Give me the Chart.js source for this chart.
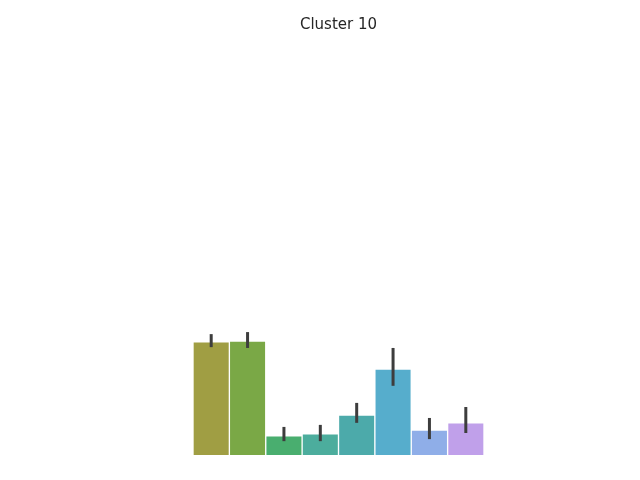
<!DOCTYPE html>
<html>
<head>
<meta charset="utf-8">
<script src="https://cdn.jsdelivr.net/npm/chart.js@4/dist/chart.umd.min.js"></script>
<style>
  html, body { margin: 0; padding: 0; background: #fff; }
  #wrap { width: 640px; height: 480px; }
</style>
</head>
<body>
<div id="wrap"><canvas id="clusterChart"></canvas></div>
<script>
var categories = ["1", "2", "3", "4", "5", "6", "7", "8"];
var values = [0.278, 0.280, 0.047, 0.052, 0.098, 0.211, 0.061, 0.079];
var errLow = [0.265, 0.263, 0.034, 0.034, 0.079, 0.170, 0.039, 0.054];
var errHigh = [0.297, 0.302, 0.069, 0.074, 0.128, 0.263, 0.091, 0.118];
var barColors = ['#a09e43', '#7aa846', '#49ae6f', '#4cad9d', '#4caaaa', '#56adcc', '#8faee8', '#c0a0ea'];

// draws seaborn-style error bars using the chart's own scales
var errorBars = {
  id: 'errorBars',
  afterDatasetsDraw: function (chart) {
    var ctx = chart.ctx;
    var meta = chart.getDatasetMeta(0);
    var y = chart.scales.y;
    ctx.save();
    ctx.strokeStyle = '#3d3d3d';
    ctx.lineWidth = 3;
    ctx.lineCap = 'butt';
    meta.data.forEach(function (bar, i) {
      ctx.beginPath();
      ctx.moveTo(bar.x, y.getPixelForValue(errLow[i]));
      ctx.lineTo(bar.x, y.getPixelForValue(errHigh[i]));
      ctx.stroke();
    });
    ctx.restore();
  }
};

new Chart(document.getElementById('clusterChart'), {
  type: 'bar',
  data: {
    labels: categories,
    datasets: [{
      data: values,
      backgroundColor: barColors,
      borderColor: '#ffffff',
      borderWidth: 1,
      categoryPercentage: 1,
      barPercentage: 1
    }]
  },
  options: {
    responsive: true,
    maintainAspectRatio: false,
    animation: false,
    layout: { padding: { left: 193, right: 156, top: 0, bottom: 25 } },
    plugins: {
      legend: { display: false },
      tooltip: { enabled: false },
      title: {
        display: true,
        text: 'Cluster 10',
        color: '#262626',
        font: { family: 'DejaVu Sans', size: 15, weight: 'normal' },
        padding: { top: 16, bottom: 14 }
      }
    },
    scales: {
      x: { display: false },
      y: { display: false, min: 0, max: 1 }
    }
  },
  plugins: [errorBars]
});
</script>
</body>
</html>
